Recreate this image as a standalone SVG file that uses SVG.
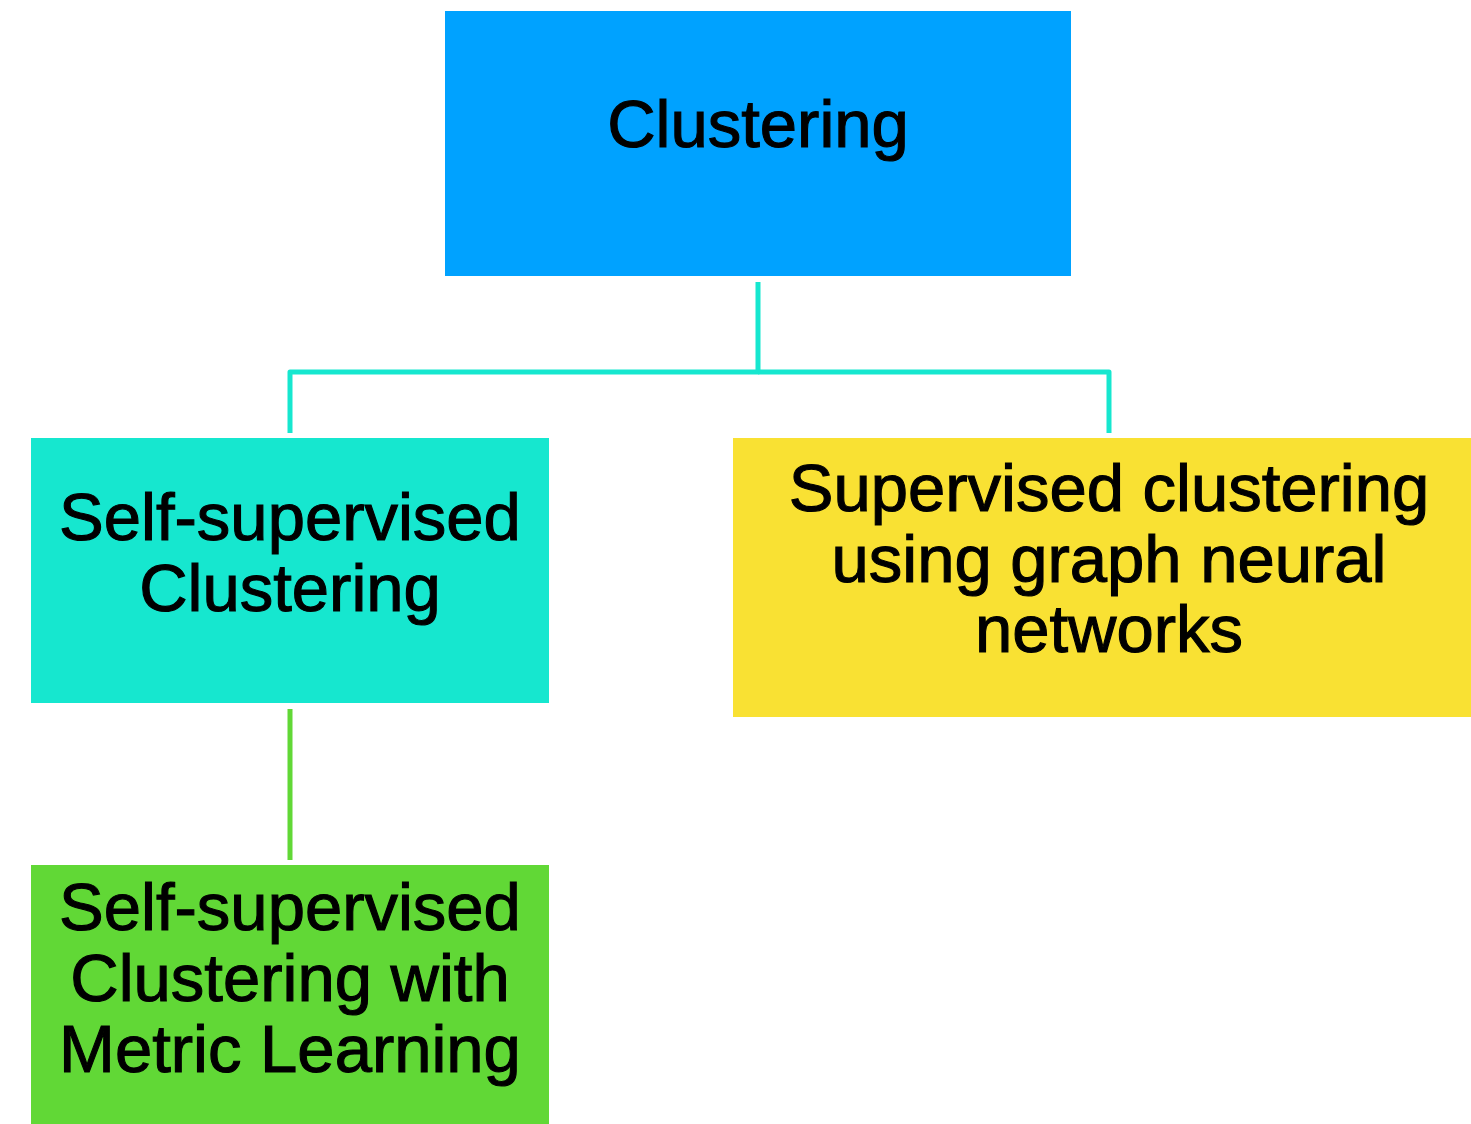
<svg xmlns="http://www.w3.org/2000/svg" width="1471" height="1124" viewBox="0 0 1471 1124">
  <style>
    .lbl { font-family: "Liberation Sans", Arial, Helvetica, sans-serif; font-size: 67px; fill: #000; stroke: #000; stroke-width: 1.1; text-anchor: middle; }
    .wire { fill: none; stroke-width: 5; stroke-linejoin: round; }
  </style>
  <rect width="1471" height="1124" fill="#ffffff"/>

  <g id="connectors">
    <path class="wire" stroke="#16E7CF" d="M758,282 V372 H290 V433"/>
    <path class="wire" stroke="#16E7CF" d="M758,372 H1109 V433"/>
    <path class="wire" stroke="#61D836" d="M290,709 V860"/>
  </g>

  <g id="clustering">
    <rect x="445" y="11" width="626" height="265" fill="#00A2FF"/>
    <text class="lbl" x="758" y="147">Clustering</text>
  </g>

  <g id="self-supervised">
    <rect x="31" y="438" width="518" height="265" fill="#16E7CF"/>
    <text class="lbl" x="290" y="540">Self-supervised</text>
    <text class="lbl" x="290" y="611">Clustering</text>
  </g>

  <g id="supervised-gnn">
    <rect x="733" y="438" width="738" height="279" fill="#F9E133"/>
    <text class="lbl" x="1109" y="511">Supervised clustering</text>
    <text class="lbl" x="1109" y="582">using graph neural</text>
    <text class="lbl" x="1109" y="652">networks</text>
  </g>

  <g id="metric-learning">
    <rect x="31" y="865" width="518" height="259" fill="#61D836"/>
    <text class="lbl" x="290" y="930">Self-supervised</text>
    <text class="lbl" x="290" y="1001">Clustering with</text>
    <text class="lbl" x="290" y="1072">Metric Learning</text>
  </g>
</svg>
